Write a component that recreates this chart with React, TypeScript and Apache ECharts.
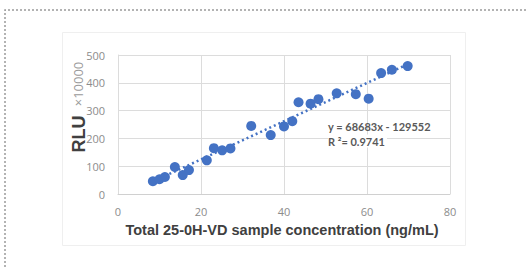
import React, { useEffect, useRef } from "react";
import * as echarts from "echarts";

const concentration = [8.4, 10.0, 11.3, 13.7, 15.6, 17.1, 21.4, 23.1, 25.1, 27.1, 32.1, 36.8, 40.0, 42.0, 43.5, 46.4, 48.3, 52.7, 57.3, 60.4, 63.4, 66.0, 69.8];
const rlu = [46, 53, 61, 97, 68, 86, 121, 165, 157, 164, 245, 212, 243, 262, 330, 325, 341, 362, 359, 343, 435, 447, 460];
const trendX = [8, 70];
const trendY = [42, 468];
const xTicks = [0, 20, 40, 60, 80];
const yTicks = [0, 100, 200, 300, 400, 500];
const equationLines = ["y = 68683x - 129552", "R ²= 0.9741"];
const xTitle = "Total 25-0H-VD sample concentration (ng/mL)";

export default function App() {
  const ref = useRef<HTMLDivElement>(null);
  useEffect(() => {
    document.body.style.margin = "0";
    const chart = echarts.init(ref.current!, undefined, { renderer: "svg" });
    const tickFont = { color: "#8c8c8c", fontSize: 11, fontFamily: "Open Sans" };
    chart.setOption({
      animation: false,
      backgroundColor: "#ffffff",
      grid: { left: 118, right: 77, top: 55, bottom: 73 },
      xAxis: {
        type: "value",
        min: xTicks[0],
        max: xTicks[xTicks.length - 1],
        interval: xTicks[1] - xTicks[0],
        axisLine: { show: true, lineStyle: { color: "#d0d0d0", width: 1 } },
        axisTick: { show: false },
        axisLabel: { ...tickFont, margin: 12 },
        splitLine: { show: true, lineStyle: { color: "#dcdcdc", width: 1 } },
      },
      yAxis: {
        type: "value",
        min: yTicks[0],
        max: yTicks[yTicks.length - 1],
        interval: yTicks[1] - yTicks[0],
        axisLine: { show: true, lineStyle: { color: "#dcdcdc", width: 1 } },
        axisTick: { show: false },
        axisLabel: { ...tickFont, margin: 13 },
        splitLine: { show: true, lineStyle: { color: "#dcdcdc", width: 1 } },
      },
      series: [
        {
          type: "line",
          data: trendX.map((x, i) => [x, trendY[i]]),
          symbol: "none",
          lineStyle: { color: "#4472C4", width: 2.5, type: [2, 3] },
          z: 2,
        },
        {
          type: "scatter",
          data: concentration.map((x, i) => [x, rlu[i]]),
          symbolSize: 10,
          itemStyle: { color: "#4472C4", opacity: 1 },
          z: 3,
        },
      ],
      graphic: [
        {
          type: "polyline",
          shape: { points: [[5, 267], [5, 10], [527, 10]] },
          style: { stroke: "#9a9a9a", fill: null, lineWidth: 1.5, lineDash: [2, 2] },
          silent: true,
        },
        {
          type: "rect",
          shape: { x: 62.5, y: 32.5, width: 403, height: 213 },
          style: { stroke: "#efefef", fill: null, lineWidth: 1 },
          silent: true,
          z: -1,
        },
        {
          type: "text",
          x: 79,
          y: 134,
          rotation: Math.PI / 2,
          style: {
            text: "RLU",
            fill: "#404040",
            font: "bold 18px 'Liberation Sans'",
            align: "center",
            verticalAlign: "middle",
          },
        },
        {
          type: "text",
          x: 78,
          y: 84,
          rotation: Math.PI / 2,
          style: {
            text: "×10000",
            fill: "#9a9a9a",
            font: "13px 'Open Sans'",
            align: "center",
            verticalAlign: "middle",
          },
        },
        {
          type: "text",
          x: 282,
          y: 230,
          style: {
            text: xTitle,
            fill: "#404040",
            font: "bold 14.5px 'Liberation Sans'",
            align: "center",
            verticalAlign: "middle",
          },
        },
        {
          type: "text",
          x: 328,
          y: 126,
          z: 10,
          style: {
            text: equationLines[0],
            fill: "#595959",
            font: "bold 11px 'Lato'",
            align: "left",
            verticalAlign: "middle",
          },
        },
        {
          type: "text",
          x: 328,
          y: 141,
          z: 10,
          style: {
            text: equationLines[1],
            fill: "#595959",
            font: "bold 11px 'Lato'",
            align: "left",
            verticalAlign: "middle",
            backgroundColor: "#ffffff",
            padding: [1, 2, 1, 0],
          },
        },
      ],
    });
    return () => chart.dispose();
  }, []);
  return <div ref={ref} style={{ width: 527, height: 267 }} />;
}
